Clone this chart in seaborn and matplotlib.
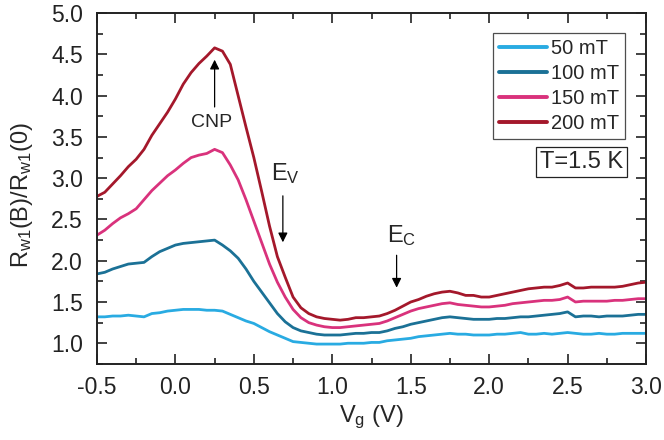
import numpy as np
import pandas as pd
import seaborn as sns
import matplotlib
matplotlib.use('Agg')
import matplotlib.pyplot as plt
from matplotlib.ticker import MultipleLocator

vg = [-0.50, -0.45, -0.40, -0.35, -0.30, -0.25, -0.20, -0.15, -0.10, -0.05,
      0.00, 0.05, 0.10, 0.15, 0.20, 0.25, 0.30, 0.35, 0.40, 0.45,
      0.50, 0.55, 0.60, 0.65, 0.70, 0.75, 0.80, 0.85, 0.90, 0.95,
      1.00, 1.05, 1.10, 1.15, 1.20, 1.25, 1.30, 1.35, 1.40, 1.45,
      1.50, 1.55, 1.60, 1.65, 1.70, 1.75, 1.80, 1.85, 1.90, 1.95,
      2.00, 2.05, 2.10, 2.15, 2.20, 2.25, 2.30, 2.35, 2.40, 2.45,
      2.50, 2.55, 2.60, 2.65, 2.70, 2.75, 2.80, 2.85, 2.90, 2.95, 3.00]

r_50 = [1.32, 1.32, 1.33, 1.33, 1.34, 1.33, 1.32, 1.36, 1.37, 1.39,
        1.40, 1.41, 1.41, 1.41, 1.40, 1.40, 1.39, 1.35, 1.31, 1.27,
        1.24, 1.19, 1.14, 1.10, 1.06, 1.02, 1.01, 1.00, 0.99, 0.99,
        0.99, 0.99, 1.00, 1.00, 1.00, 1.01, 1.01, 1.03, 1.04, 1.05,
        1.06, 1.08, 1.09, 1.10, 1.11, 1.12, 1.11, 1.11, 1.10, 1.10,
        1.10, 1.11, 1.11, 1.12, 1.13, 1.11, 1.11, 1.12, 1.11, 1.12,
        1.13, 1.12, 1.11, 1.11, 1.12, 1.11, 1.11, 1.12, 1.12, 1.12, 1.12]

r_100 = [1.84, 1.86, 1.90, 1.93, 1.96, 1.97, 1.98, 2.05, 2.11, 2.15,
         2.19, 2.21, 2.22, 2.23, 2.24, 2.25, 2.19, 2.12, 2.03, 1.90,
         1.75, 1.62, 1.49, 1.36, 1.26, 1.19, 1.15, 1.13, 1.11, 1.10,
         1.10, 1.10, 1.11, 1.12, 1.12, 1.13, 1.13, 1.15, 1.18, 1.20,
         1.23, 1.25, 1.27, 1.29, 1.31, 1.32, 1.31, 1.30, 1.29, 1.29,
         1.29, 1.30, 1.30, 1.31, 1.32, 1.32, 1.33, 1.34, 1.35, 1.36,
         1.38, 1.32, 1.33, 1.33, 1.32, 1.33, 1.33, 1.33, 1.34, 1.35, 1.35]

r_150 = [2.31, 2.37, 2.45, 2.52, 2.57, 2.63, 2.74, 2.85, 2.94, 3.03,
         3.10, 3.18, 3.25, 3.28, 3.30, 3.35, 3.31, 3.16, 2.98, 2.74,
         2.48, 2.22, 1.96, 1.74, 1.56, 1.41, 1.31, 1.25, 1.22, 1.20,
         1.19, 1.19, 1.20, 1.21, 1.22, 1.23, 1.24, 1.27, 1.31, 1.35,
         1.39, 1.42, 1.44, 1.46, 1.48, 1.49, 1.47, 1.46, 1.45, 1.44,
         1.44, 1.45, 1.46, 1.48, 1.49, 1.50, 1.51, 1.52, 1.52, 1.53,
         1.56, 1.50, 1.51, 1.51, 1.51, 1.51, 1.52, 1.52, 1.53, 1.54, 1.54]

r_200 = [2.78, 2.83, 2.93, 3.03, 3.14, 3.23, 3.35, 3.52, 3.66, 3.80,
         3.96, 4.14, 4.28, 4.39, 4.48, 4.58, 4.54, 4.38, 4.00, 3.62,
         3.25, 2.84, 2.42, 2.05, 1.80, 1.56, 1.43, 1.36, 1.32, 1.30,
         1.29, 1.28, 1.29, 1.31, 1.31, 1.32, 1.33, 1.36, 1.40, 1.45,
         1.50, 1.53, 1.57, 1.60, 1.62, 1.63, 1.61, 1.58, 1.58, 1.56,
         1.56, 1.58, 1.60, 1.62, 1.64, 1.66, 1.67, 1.68, 1.68, 1.70,
         1.73, 1.67, 1.67, 1.68, 1.68, 1.68, 1.68, 1.69, 1.71, 1.73, 1.74]

labels = ['50 mT', '100 mT', '150 mT', '200 mT']
colors = ['#29abe2', '#1b7196', '#d9327c', '#a4182b']

frames = []
for lab, vals in zip(labels, [r_50, r_100, r_150, r_200]):
    frames.append(pd.DataFrame({'Vg': vg, 'R': vals, 'B': lab}))
df = pd.concat(frames, ignore_index=True)

sns.set_style('ticks')
plt.rcParams['font.family'] = ['Liberation Sans', 'DejaVu Sans']
plt.rcParams['mathtext.default'] = 'regular'
plt.rcParams['axes.unicode_minus'] = False

fig = plt.figure(figsize=(6.64, 4.40), dpi=100)
ax = fig.add_axes([0.146, 0.173, 0.827, 0.797])

sns.lineplot(data=df, x='Vg', y='R', hue='B', hue_order=labels,
             palette=colors, linewidth=2.0, ax=ax, legend=False)

ax.set_xlim(-0.5, 3.0)
ax.set_ylim(0.75, 5.0)
ax.xaxis.set_major_locator(MultipleLocator(0.5))
ax.xaxis.set_minor_locator(MultipleLocator(0.25))
ax.yaxis.set_major_locator(MultipleLocator(0.5))
ax.yaxis.set_minor_locator(MultipleLocator(0.25))
ax.tick_params(which='both', direction='in', top=True, right=True,
               width=1.2, colors='#222222')
ax.tick_params(which='major', length=7, labelsize=16.5)
ax.tick_params(axis='x', which='major', pad=9)
ax.tick_params(axis='y', which='major', pad=10)
ax.tick_params(which='minor', length=4)
for sp in ax.spines.values():
    sp.set_linewidth(1.4)
    sp.set_color('#222222')

ax.set_xlabel('V$_g$ (V)', fontsize=17)
ax.set_ylabel('R$_{w1}$(B)/R$_{w1}$(0)', fontsize=17)
ax.xaxis.set_label_coords(0.5, -0.112)
ax.yaxis.set_label_coords(-0.113, 0.481)

# annotations
arr = dict(arrowstyle='-|>', color='black', lw=0.9, mutation_scale=14)
ax.annotate('', xy=(0.25, 4.47), xytext=(0.25, 3.83), arrowprops=arr)
ax.text(0.23, 3.68, 'CNP', fontsize=14, ha='center', va='center')
ax.annotate('', xy=(0.685, 2.19), xytext=(0.685, 2.82), arrowprops=arr)
ax.text(0.70, 3.06, 'E$_V$', fontsize=17, ha='center', va='center')
ax.annotate('', xy=(1.41, 1.64), xytext=(1.41, 2.10), arrowprops=arr)
ax.text(1.44, 2.31, 'E$_C$', fontsize=17, ha='center', va='center')

handles = [plt.Line2D([], [], color=c, lw=2.8) for c in colors]
leg = ax.legend(handles, labels, loc='upper right',
                bbox_to_anchor=(0.962, 0.943), fontsize=14.5,
                frameon=True, fancybox=False, handlelength=2.4,
                handletextpad=0.2, borderpad=0.3, labelspacing=0.3,
                borderaxespad=0)
leg.get_frame().set_edgecolor('#222222')
leg.get_frame().set_linewidth(0.9)

ax.text(0.958, 0.607, 'T=1.5 K', transform=ax.transAxes, fontsize=17,
        ha='right', va='top',
        bbox=dict(boxstyle='square,pad=0.18', fc='white', ec='#222222', lw=0.9))

fig.savefig('out.png', dpi=100)
